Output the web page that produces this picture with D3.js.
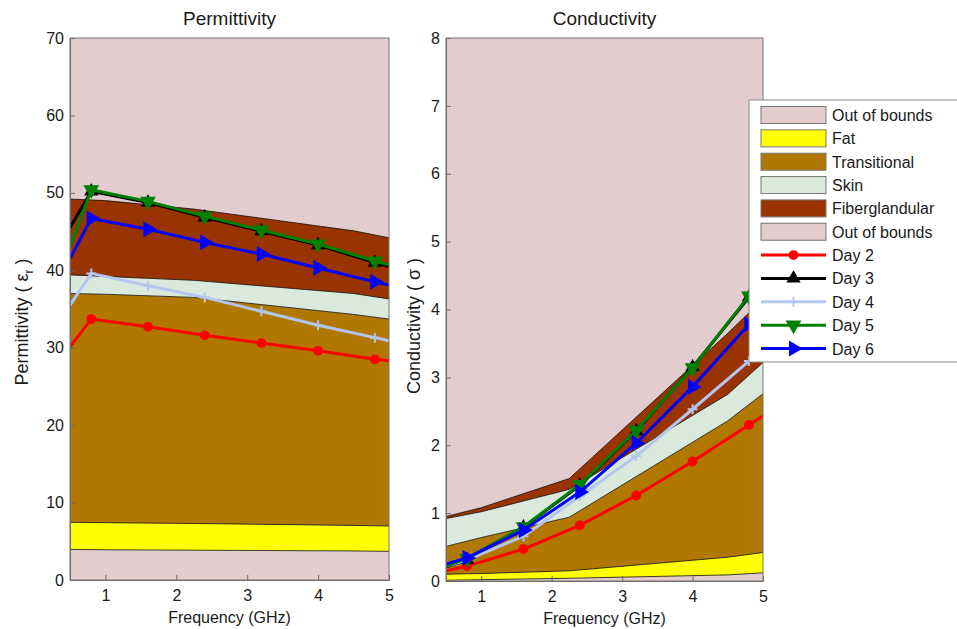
<!DOCTYPE html>
<html>
<head>
<meta charset="utf-8">
<script src="https://cdn.jsdelivr.net/npm/d3@7/dist/d3.min.js"></script>
<style>
body { margin: 0; background: #fff; }
text { font-family: "Liberation Sans", Arial, sans-serif; fill: #1a1a1a; }
</style>
</head>
<body>
<div id="chart"></div>
<script>
// frequencies (GHz) - first and last are where the lines leave the axes
var freqs = [0.5, 0.8, 1.6, 2.4, 3.2, 4.0, 4.8, 5.0];
var bandFreqs = [0.5, 1.0, 2.25, 4.5, 5.0];

var dayNames = ["Day 2", "Day 3", "Day 4", "Day 5", "Day 6"];
var dayColors = ["#ff0000", "#000000", "#b3c6f2", "#008000", "#0000ff"];
var dayMarkers = ["circle", "up", "plus", "down", "right"];

var permDay2 = [30.1, 33.7, 32.7, 31.6, 30.6, 29.6, 28.5, 28.3];
var permDay3 = [45.5, 50.2, 48.75, 46.85, 45.05, 43.25, 41.0, 40.5];
var permDay4 = [35.5, 39.6, 38.0, 36.5, 34.7, 32.9, 31.3, 30.9];
var permDay5 = [43.0, 50.4, 48.9, 47.0, 45.2, 43.4, 41.2, 40.7];
var permDay6 = [41.5, 46.7, 45.3, 43.6, 42.1, 40.3, 38.5, 38.1];

var condDay2 = [0.15, 0.22, 0.47, 0.82, 1.26, 1.76, 2.30, 2.43];
var condDay3 = [0.21, 0.31, 0.79, 1.41, 2.21, 3.15, 4.18, 4.42];
var condDay4 = [0.22, 0.31, 0.66, 1.25, 1.84, 2.53, 3.24, 3.42];
var condDay5 = [0.22, 0.33, 0.80, 1.42, 2.22, 3.14, 4.20, 4.45];
var condDay6 = [0.25, 0.34, 0.75, 1.31, 2.03, 2.86, 3.78, 4.01];

// upper edge of each tissue band (lower out of bounds, fat, transitional, skin, fiberglandular)
var permOobTop = [3.95, 3.9, 3.85, 3.75, 3.7];
var permFatTop = [7.45, 7.4, 7.3, 7.05, 6.97];
var permTransTop = [37.0, 36.9, 36.5, 34.3, 33.7];
var permSkinTop = [39.4, 39.2, 38.7, 37.0, 36.3];
var permFibroTop = [49.2, 49.0, 47.9, 45.1, 44.2];

var condOobTop = [0.01, 0.02, 0.04, 0.09, 0.12];
var condFatTop = [0.10, 0.11, 0.15, 0.35, 0.42];
var condTransTop = [0.51, 0.64, 0.94, 2.36, 2.76];
var condSkinTop = [0.92, 1.02, 1.35, 2.75, 3.22];
var condFibroTop = [0.95, 1.08, 1.51, 3.65, 4.15];

var legendNames = ["Out of bounds", "Fat", "Transitional", "Skin", "Fiberglandular", "Out of bounds"];
var oobColor = "#e3cccd";
var bandColors = ["#ffff00", "#b07800", "#d9e9dc", "#993300"];
var legendColors = [oobColor, "#ffff00", "#b07800", "#d9e9dc", "#993300", oobColor];

var xTicks = [1, 2, 3, 4, 5];
var permTicks = [0, 10, 20, 30, 40, 50, 60, 70];
var condTicks = [0, 1, 2, 3, 4, 5, 6, 7, 8];

var svg = d3.select("#chart")
    .append("svg")
    .attr("width", 957)
    .attr("height", 629);

function markerPath(type) {
    if (type == "circle") return d3.symbol().type(d3.symbolCircle).size(55)();
    if (type == "plus") return "M-5,0H5M0,-5V5";
    if (type == "up") return d3.symbol().type(d3.symbolTriangle).size(60)();
    return d3.symbol().type(d3.symbolTriangle).size(75)();
}
function markerRotate(type) {
    if (type == "down") return 180;
    if (type == "right") return 90;
    return 0;
}

function drawPanel(cfg) {
    var x = d3.scaleLinear().domain([0.5, 5]).range([cfg.left, cfg.right]);
    var y = d3.scaleLinear().domain([0, cfg.yMax]).range([cfg.bottom, cfg.top]);

    svg.append("clipPath").attr("id", cfg.id)
        .append("rect")
        .attr("x", cfg.left).attr("y", cfg.top)
        .attr("width", cfg.right - cfg.left).attr("height", cfg.bottom - cfg.top);

    var plot = svg.append("g").attr("clip-path", "url(#" + cfg.id + ")");

    plot.append("rect")
        .attr("x", cfg.left).attr("y", cfg.top)
        .attr("width", cfg.right - cfg.left).attr("height", cfg.bottom - cfg.top)
        .attr("fill", oobColor);

    for (var i = 1; i < cfg.bounds.length; i++) {
        var lo = cfg.bounds[i - 1], hi = cfg.bounds[i];
        var area = d3.area()
            .x(function (d, j) { return x(bandFreqs[j]); })
            .y0(function (d, j) { return y(lo[j]); })
            .y1(function (d, j) { return y(hi[j]); });
        plot.append("path")
            .datum(bandFreqs)
            .attr("d", area)
            .attr("fill", bandColors[i - 1]);
    }
    cfg.bounds.forEach(function (b) {
        var line = d3.line()
            .x(function (d, j) { return x(bandFreqs[j]); })
            .y(function (d) { return y(d); });
        plot.append("path")
            .datum(b)
            .attr("d", line)
            .attr("fill", "none")
            .attr("stroke", "#111")
            .attr("stroke-width", 0.8);
    });

    cfg.days.forEach(function (vals, k) {
        var line = d3.line()
            .x(function (d, j) { return x(freqs[j]); })
            .y(function (d) { return y(d); });
        plot.append("path")
            .datum(vals)
            .attr("d", line)
            .attr("fill", "none")
            .attr("stroke", dayColors[k])
            .attr("stroke-width", 3)
            .attr("stroke-linejoin", "round");
        var pts = vals.map(function (v, j) { return [freqs[j], v]; }).slice(1, vals.length - 1);
        plot.selectAll(".m" + k)
            .data(pts)
            .enter()
            .append("path")
            .attr("class", "m" + k)
            .attr("d", markerPath(dayMarkers[k]))
            .attr("transform", function (d) {
                return "translate(" + x(d[0]) + "," + y(d[1]) + ") rotate(" + markerRotate(dayMarkers[k]) + ")";
            })
            .attr("fill", dayColors[k])
            .attr("stroke", dayColors[k])
            .attr("stroke-width", dayMarkers[k] == "plus" ? 2 : 1.5);
    });

    var bottomAxis = d3.axisBottom(x).tickValues(xTicks).tickFormat(d3.format("d"))
        .tickSize(-5).tickSizeOuter(0).tickPadding(10);
    var leftAxis = d3.axisLeft(y).tickValues(cfg.yTicks).tickFormat(d3.format("d"))
        .tickSize(-5).tickSizeOuter(0).tickPadding(6);

    var gx = svg.append("g")
        .attr("transform", "translate(0," + cfg.bottom + ")")
        .call(bottomAxis);
    var gy = svg.append("g")
        .attr("transform", "translate(" + cfg.left + ",0)")
        .call(leftAxis);
    [gx, gy].forEach(function (g) {
        g.selectAll("path,line").attr("stroke", "#666");
        g.selectAll("text").style("font-size", "16px").attr("fill", "#1a1a1a");
    });

    svg.append("rect")
        .attr("x", cfg.left).attr("y", cfg.top)
        .attr("width", cfg.right - cfg.left).attr("height", cfg.bottom - cfg.top)
        .attr("fill", "none")
        .attr("stroke", "#777")
        .attr("stroke-width", 1);

    svg.append("text")
        .attr("x", (cfg.left + cfg.right) / 2)
        .attr("y", 25)
        .attr("text-anchor", "middle")
        .style("font-size", "19px")
        .text(cfg.title);

    svg.append("text")
        .attr("x", (cfg.left + cfg.right) / 2)
        .attr("y", cfg.bottom + 43)
        .attr("text-anchor", "middle")
        .style("font-size", "16px")
        .text("Frequency (GHz)");

    var yl = svg.append("text")
        .attr("transform", "translate(" + cfg.labelX + "," + cfg.labelY + ") rotate(-90)")
        .attr("text-anchor", "middle")
        .style("font-size", "18px");
    yl.append("tspan").text(cfg.ylabel);
    if (cfg.sub) {
        yl.append("tspan").attr("dy", 5).style("font-size", "12px").text(cfg.sub);
        yl.append("tspan").attr("dy", -5).text(" )");
    }
}

drawPanel({
    id: "clipPerm", left: 70, right: 389, top: 38, bottom: 580,
    yMax: 70, yTicks: permTicks, title: "Permittivity",
    ylabel: "Permittivity ( \u03b5", sub: "r", labelX: 28, labelY: 322,
    bounds: [permOobTop, permFatTop, permTransTop, permSkinTop, permFibroTop],
    days: [permDay2, permDay3, permDay4, permDay5, permDay6]
});

drawPanel({
    id: "clipCond", left: 446, right: 763, top: 38, bottom: 581,
    yMax: 8, yTicks: condTicks, title: "Conductivity",
    ylabel: "Conductivity ( \u03c3 )", sub: null, labelX: 420, labelY: 326,
    bounds: [condOobTop, condFatTop, condTransTop, condSkinTop, condFibroTop],
    days: [condDay2, condDay3, condDay4, condDay5, condDay6]
});

// legend
var legend = svg.append("g");
legend.append("rect")
    .attr("x", 749).attr("y", 100)
    .attr("width", 215).attr("height", 262)
    .attr("fill", "#fff")
    .attr("stroke", "#888");

var entryY = function (i) { return 115 + i * 23.35; };

legendNames.forEach(function (name, i) {
    legend.append("rect")
        .attr("x", 761).attr("y", entryY(i) - 8.5)
        .attr("width", 65).attr("height", 17)
        .attr("fill", legendColors[i])
        .attr("stroke", "#777");
    legend.append("text")
        .attr("x", 832).attr("y", entryY(i) + 6)
        .style("font-size", "16px")
        .text(name);
});
dayNames.forEach(function (name, k) {
    var cy = entryY(legendNames.length + k);
    legend.append("line")
        .attr("x1", 761).attr("x2", 826)
        .attr("y1", cy).attr("y2", cy)
        .attr("stroke", dayColors[k])
        .attr("stroke-width", 3);
    legend.append("path")
        .attr("d", markerPath(dayMarkers[k]))
        .attr("transform", "translate(793.5," + cy + ") rotate(" + markerRotate(dayMarkers[k]) + ")")
        .attr("fill", dayColors[k])
        .attr("stroke", dayColors[k])
        .attr("stroke-width", dayMarkers[k] == "plus" ? 2 : 1.5);
    legend.append("text")
        .attr("x", 832).attr("y", cy + 6)
        .style("font-size", "16px")
        .text(name);
});
</script>
</body>
</html>
